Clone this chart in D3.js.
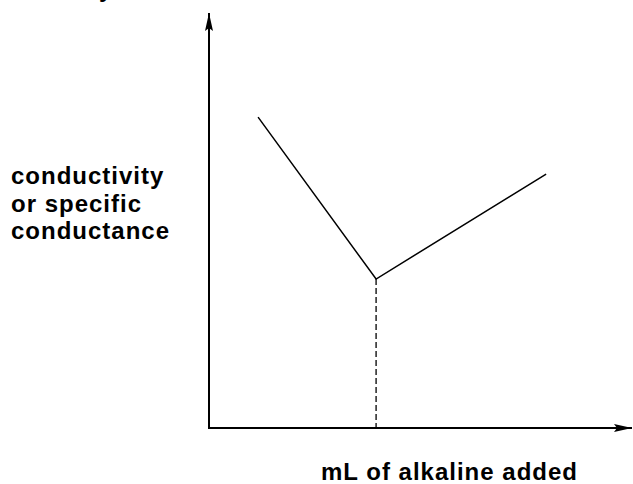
<!DOCTYPE html>
<html>
<head>
<meta charset="utf-8">
<script src="https://cdn.jsdelivr.net/npm/d3@7"></script>
<style>
  body { margin: 0; background: #fff; overflow: hidden; }
  text { font-family: "Liberation Sans", Arial, sans-serif; font-weight: bold; fill: #000; }
</style>
</head>
<body>
<div id="chart"></div>
<script>
// titration curve: volume added vs conductivity (arbitrary units)
var volume = [11.6, 39.5, 79.7];
var conductivity = [74.9, 35.9, 61.2];
var endPoint = 1; // index of the equivalence point
var yLabel = ["conductivity", "or specific", "conductance"];
var xLabel = "mL of alkaline added";

var width = 633, height = 484;
var svg = d3.select("#chart").append("svg")
  .attr("width", width)
  .attr("height", height)
  .style("display", "block");

// scales
var x = d3.scaleLinear().domain([0, 100]).range([209, 632]);
var y = d3.scaleLinear().domain([0, 100]).range([428, 13]);

// arrow markers
var defs = svg.append("defs");
defs.append("marker")
  .attr("id", "arrow")
  .attr("viewBox", "0 0 18 8")
  .attr("refX", 18).attr("refY", 4)
  .attr("markerWidth", 18).attr("markerHeight", 8)
  .attr("markerUnits", "userSpaceOnUse")
  .attr("orient", "auto")
  .append("path")
  .attr("d", "M0,0 L18,4 L0,8 L3,4 Z")
  .attr("fill", "#000");

// axes
svg.append("line")
  .attr("x1", x(0)).attr("y1", y(0))
  .attr("x2", x(0)).attr("y2", y(100))
  .attr("stroke", "#000").attr("stroke-width", 2)
  .attr("marker-end", "url(#arrow)");

svg.append("line")
  .attr("x1", x(0) - 1).attr("y1", y(0))
  .attr("x2", x(100)).attr("y2", y(0))
  .attr("stroke", "#000").attr("stroke-width", 2)
  .attr("marker-end", "url(#arrow)");

// curve
var pts = volume.map(function(v, i) { return [v, conductivity[i]]; });
var line = d3.line()
  .x(function(d) { return x(d[0]); })
  .y(function(d) { return y(d[1]); });

svg.append("path")
  .datum(pts)
  .attr("d", line)
  .attr("fill", "none")
  .attr("stroke", "#000")
  .attr("stroke-width", 1.5);

// dashed drop line at equivalence point
svg.append("line")
  .attr("x1", x(volume[endPoint])).attr("y1", y(conductivity[endPoint]))
  .attr("x2", x(volume[endPoint])).attr("y2", y(0))
  .attr("stroke", "#000").attr("stroke-width", 1.3)
  .attr("stroke-dasharray", "6,3");

// labels
svg.append("text")
  .attr("x", 11)
  .attr("y", 184)
  .style("font-size", "24px")
  .style("letter-spacing", "1px")
  .selectAll("tspan")
  .data(yLabel)
  .enter().append("tspan")
  .attr("x", 11)
  .attr("dy", function(d, i) { return i == 0 ? 0 : 27.5; })
  .text(function(d) { return d; });

svg.append("text")
  .attr("x", 321)
  .attr("y", 480)
  .style("font-size", "24px")
  .style("letter-spacing", "1px")
  .text(xLabel);

// cut-off letter at the top edge
svg.append("text")
  .attr("x", 99)
  .attr("y", -3)
  .style("font-size", "24px")
  .text("y");
</script>
</body>
</html>
